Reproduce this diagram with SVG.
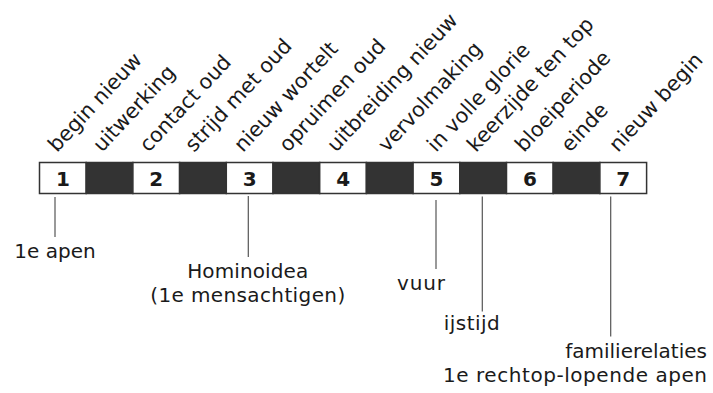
<svg xmlns="http://www.w3.org/2000/svg" width="713" height="393" viewBox="0 0 713 393">
<style>
text{font-family:"DejaVu Sans","Verdana",sans-serif;fill:#1a1a1a;font-size:20px}
.lbl{font-size:20.7px}
.num{font-weight:bold;text-anchor:middle;font-size:20px}
.w{fill:#fff;stroke:#333;stroke-width:1.5}
.d{fill:#333;stroke:#333;stroke-width:1.5}
.c{stroke:#555;stroke-width:1.2;fill:none}
.m{text-anchor:middle}
.e{text-anchor:end}
</style>
<rect width="713" height="393" fill="#fff"/>
<g id="labels">
<text class="lbl" transform="translate(57,153) rotate(-47)">begin nieuw</text>
<text class="lbl" transform="translate(102,153) rotate(-47)">uitwerking</text>
<text class="lbl" transform="translate(148.5,153) rotate(-47)">contact oud</text>
<text class="lbl" transform="translate(194,153) rotate(-47)">strijd met oud</text>
<text class="lbl" transform="translate(243,153) rotate(-47)">nieuw wortelt</text>
<text class="lbl" transform="translate(288,153) rotate(-47)">opruimen oud</text>
<text class="lbl" transform="translate(336,153) rotate(-47)">uitbreiding nieuw</text>
<text class="lbl" transform="translate(387,153) rotate(-47)">vervolmaking</text>
<text class="lbl" transform="translate(436,153) rotate(-47)">in volle glorie</text>
<text class="lbl" transform="translate(476,153) rotate(-47)">keerzijde ten top</text>
<text class="lbl" transform="translate(524,153) rotate(-47)">bloeiperiode</text>
<text class="lbl" transform="translate(570,153) rotate(-47)">einde</text>
<text class="lbl" transform="translate(618,153) rotate(-47)">nieuw begin</text>
</g>
<g id="bar">
<g id="cell1"><rect class="w" x="39.5" y="162.5" width="46.7" height="31"/><text class="num" x="62.9" y="186">1</text></g>
<rect class="d" x="86.2" y="162.5" width="46.7" height="31"/>
<g id="cell2"><rect class="w" x="132.9" y="162.5" width="46.7" height="31"/><text class="num" x="156.3" y="186">2</text></g>
<rect class="d" x="179.6" y="162.5" width="46.7" height="31"/>
<g id="cell3"><rect class="w" x="226.3" y="162.5" width="46.7" height="31"/><text class="num" x="249.7" y="186">3</text></g>
<rect class="d" x="273" y="162.5" width="46.7" height="31"/>
<g id="cell4"><rect class="w" x="319.7" y="162.5" width="46.7" height="31"/><text class="num" x="343.1" y="186">4</text></g>
<rect class="d" x="366.4" y="162.5" width="46.7" height="31"/>
<g id="cell5"><rect class="w" x="413.1" y="162.5" width="46.7" height="31"/><text class="num" x="436.5" y="186">5</text></g>
<rect class="d" x="459.8" y="162.5" width="46.7" height="31"/>
<g id="cell6"><rect class="w" x="506.5" y="162.5" width="46.7" height="31"/><text class="num" x="529.9" y="186">6</text></g>
<rect class="d" x="553.2" y="162.5" width="46.7" height="31"/>
<g id="cell7"><rect class="w" x="599.9" y="162.5" width="46.7" height="31"/><text class="num" x="623.3" y="186">7</text></g>
</g>
<g id="connectors">
<line class="c" x1="55" y1="197" x2="55" y2="237"/>
<line class="c" x1="248.3" y1="196" x2="248.3" y2="257"/>
<line class="c" x1="436" y1="200" x2="436" y2="269"/>
<line class="c" x1="482.3" y1="196.5" x2="482.3" y2="311.5"/>
<line class="c" x1="610.7" y1="196.5" x2="610.7" y2="336.5"/>
</g>
<g id="n-apen"><text class="m" x="55" y="258">1e apen</text></g>
<g id="n-hominoidea"><text class="m" x="247.7" y="278" textLength="121" lengthAdjust="spacing">Hominoidea</text><text class="m" x="247.7" y="302" textLength="195" lengthAdjust="spacing">(1e mensachtigen)</text></g>
<g id="n-vuur"><text class="m" x="421" y="290" textLength="48" lengthAdjust="spacing">vuur</text></g>
<g id="n-ijstijd"><text class="m" x="471.7" y="330" textLength="56" lengthAdjust="spacing">ijstijd</text></g>
<g id="n-familie"><text class="e" x="707" y="358">familierelaties</text><text class="e" x="707" y="382" textLength="264" lengthAdjust="spacing">1e rechtop-lopende apen</text></g>
</svg>
